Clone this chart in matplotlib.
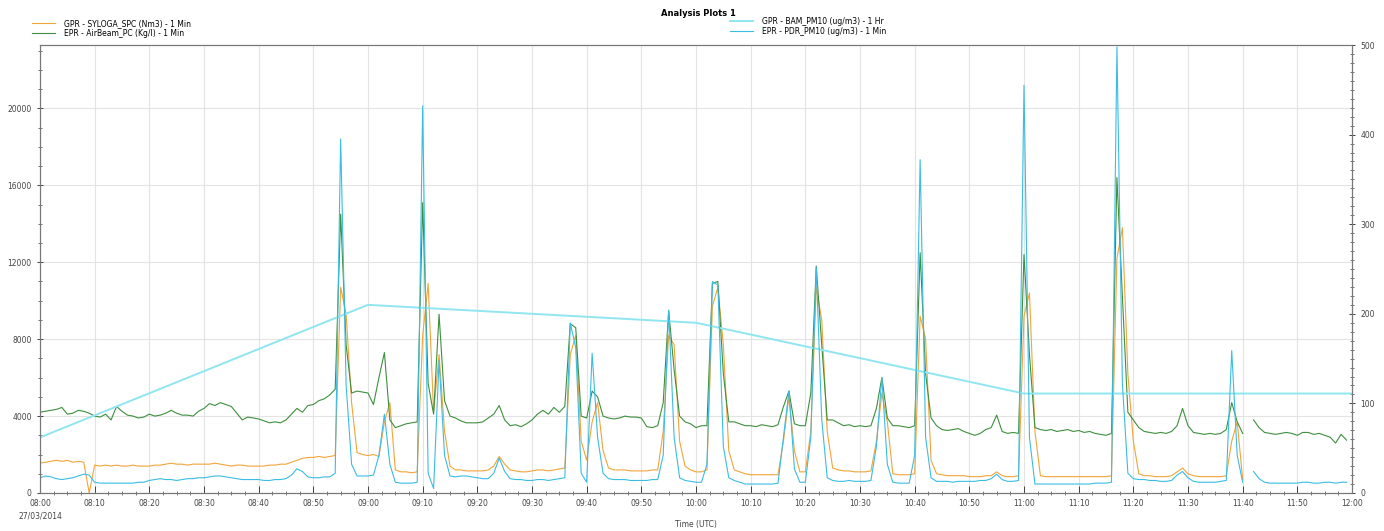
import matplotlib
matplotlib.use('Agg')
import matplotlib.pyplot as plt
import matplotlib.dates as mdates
from matplotlib.ticker import MultipleLocator, AutoMinorLocator
import numpy as np
import pandas as pd

nan = np.nan

# 1 minute timestamps 08:00 - 11:59, hourly points 08:00 - 12:00
minutes = pd.date_range('2014-03-27 08:00', periods=240, freq='min')
hours = pd.date_range('2014-03-27 08:00', periods=5, freq='h')

# GPR - SYLOGA_SPC (left axis), one row = 10 minutes
sylo = [
    1550, 1600, 1650, 1700, 1650, 1700, 1600, 1650, 1600, 0,
    1450, 1400, 1450, 1400, 1450, 1400, 1400, 1450, 1400, 1400,
    1400, 1450, 1450, 1500, 1550, 1500, 1500, 1450, 1500, 1500,
    1500, 1500, 1550, 1500, 1450, 1400, 1450, 1450, 1400, 1400,
    1400, 1400, 1450, 1450, 1500, 1500, 1600, 1700, 1800, 1850,
    1850, 1900, 1850, 1900, 1950, 10700, 9300, 4700, 2100, 2000,
    1950, 2000, 1900, 3700, 4700, 1200, 1100, 1100, 1050, 1100,
    8200, 10900, 4200, 7200, 3200, 1400, 1200, 1200, 1150, 1150,
    1150, 1150, 1200, 1400, 1900, 1500, 1200, 1150, 1100, 1100,
    1150, 1200, 1200, 1150, 1200, 1250, 1300, 7200, 8200, 2700,
    1700, 3700, 4700, 2200, 1300, 1200, 1200, 1200, 1150, 1150,
    1150, 1150, 1200, 1200, 3200, 8200, 7700, 2700, 1400, 1200,
    1100, 1100, 1200, 9700, 10700, 7700, 2200, 1200, 1100, 1000,
    950, 950, 950, 950, 950, 950, 2700, 5000, 2200, 1100,
    1100, 3200, 10700, 9000, 3200, 1300, 1200, 1150, 1150, 1100,
    1100, 1100, 1150, 2700, 5200, 3700, 1000, 950, 950, 950,
    1000, 9200, 8000, 1700, 1000, 950, 900, 900, 900, 900,
    850, 850, 850, 900, 900, 1100, 900, 850, 850, 900,
    9200, 10400, 3200, 900, 850, 850, 850, 850, 850, 850,
    850, 850, 850, 850, 850, 850, 900, 12200, 13800, 6200,
    2700, 1000, 900, 900, 850, 850, 850, 900, 1100, 1300,
    1000, 900, 850, 850, 850, 850, 850, 900, 2700, 3700,
    700, nan, nan, nan, nan, nan, nan, nan, nan, nan,
    nan, nan, nan, nan, nan, nan, nan, nan, nan, nan,
]

# EPR - AirBeam_PC (left axis)
airbeam = [
    4200, 4250, 4300, 4350, 4450, 4100, 4150, 4300, 4250, 4150,
    4000, 3950, 4100, 3800, 4500, 4250, 4050, 4000, 3900, 3950,
    4100, 4000, 4050, 4150, 4300, 4150, 4050, 4050, 4000, 4250,
    4400, 4650, 4550, 4700, 4600, 4500, 4150, 3800, 3950, 3900,
    3850, 3750, 3650, 3700, 3650, 3800, 4100, 4400, 4200, 4550,
    4600, 4800, 4900, 5100, 5400, 14500, 7700, 5200, 5300, 5250,
    5200, 4600, 6000, 7300, 3800, 3400, 3500, 3600, 3650, 3700,
    15100, 5700, 4100, 9300, 4800, 4000, 3900, 3750, 3650, 3650,
    3650, 3700, 3900, 4100, 4550, 3800, 3500, 3550, 3450, 3600,
    3800, 4100, 4300, 4100, 4450, 4200, 4500, 8800, 8600, 4000,
    3900, 5300, 5000, 4000, 3900, 3850, 3900, 4000, 3950, 3950,
    3900, 3450, 3400, 3500, 4700, 9500, 6400, 4000, 3700, 3600,
    3400, 3500, 3500, 10900, 11000, 6200, 3700, 3700, 3600, 3500,
    3500, 3450, 3550, 3500, 3450, 3550, 4500, 5300, 3600, 3500,
    3500, 5200, 11800, 7700, 3800, 3800, 3650, 3500, 3550, 3450,
    3500, 3450, 3500, 4400, 6000, 3900, 3500, 3500, 3450, 3400,
    3500, 12500, 6200, 3900, 3500, 3300, 3250, 3300, 3350, 3200,
    3100, 3000, 3100, 3300, 3400, 4050, 3200, 3100, 3150, 3100,
    12400, 7200, 3400, 3300, 3250, 3300, 3200, 3250, 3300, 3200,
    3250, 3150, 3200, 3100, 3050, 3000, 3100, 16400, 10200, 4200,
    3800, 3400, 3200, 3150, 3100, 3150, 3100, 3200, 3500, 4400,
    3500, 3150, 3100, 3050, 3100, 3050, 3100, 3300, 4700, 3700,
    3100, nan, 3800, 3400, 3150, 3100, 3050, 3100, 3150, 3100,
    3000, 3150, 3150, 3050, 3100, 3000, 2900, 2600, 3050, 2750,
]

# EPR - PDR_PM10 (right axis)
pdr = [
    17, 19, 18, 16, 15, 16, 17, 19, 21, 20,
    12, 11, 11, 11, 11, 11, 11, 11, 12, 12,
    14, 15, 16, 15, 15, 14, 15, 16, 16, 17,
    17, 18, 19, 19, 18, 17, 16, 15, 15, 15,
    15, 14, 14, 15, 15, 16, 20, 27, 24, 18,
    17, 17, 18, 18, 22, 395, 120, 32, 19, 19,
    19, 20, 42, 88, 32, 12, 11, 11, 11, 12,
    432, 22, 5, 148, 42, 19, 18, 19, 19, 18,
    17, 16, 16, 22, 39, 24, 16, 15, 15, 14,
    14, 15, 15, 14, 15, 16, 17, 190, 162, 22,
    12, 156, 62, 22, 16, 15, 15, 15, 14, 14,
    14, 14, 15, 15, 42, 204, 62, 17, 14, 13,
    12, 12, 32, 236, 232, 52, 17, 14, 12, 10,
    10, 10, 10, 10, 10, 11, 62, 114, 27, 12,
    12, 62, 252, 82, 17, 14, 13, 13, 14, 13,
    13, 13, 14, 52, 129, 32, 12, 11, 11, 11,
    42, 372, 62, 17, 13, 13, 13, 12, 13, 13,
    13, 13, 14, 14, 16, 21, 15, 13, 13, 14,
    455, 62, 10, 10, 10, 10, 10, 10, 10, 10,
    10, 10, 10, 11, 11, 11, 12, 498, 122, 22,
    16, 15, 15, 14, 14, 13, 13, 14, 20, 24,
    17, 13, 12, 12, 12, 12, 13, 14, 159, 42,
    12, nan, 24, 16, 12, 11, 11, 11, 11, 11,
    11, 12, 12, 11, 11, 12, 12, 11, 12, 12,
]

# GPR - BAM_PM10 hourly (right axis)
bam = [62, 210, 190, 111, 111]

labels_left = ['GPR - SYLOGA_SPC (Nm3) - 1 Min', 'EPR - AirBeam_PC (Kg/l) - 1 Min']
labels_right = ['GPR - BAM_PM10 (ug/m3) - 1 Hr', 'EPR - PDR_PM10 (ug/m3) - 1 Min']

W, H = 1384, 531
fig = plt.figure(figsize=(W / 100, H / 100), dpi=100)
ax = fig.add_axes([40 / W, 1 - 493 / H, (1352 - 40) / W, (493 - 45) / H])
ax2 = ax.twinx()

l1, = ax.plot(minutes, sylo, color='#f2a43a', lw=0.8, label=labels_left[0])
l2, = ax.plot(minutes, airbeam, color='#3e8f3e', lw=0.8, label=labels_left[1])
l3, = ax2.plot(hours, bam, color='#8fe6f0', lw=1.4, label=labels_right[0])
l4, = ax2.plot(minutes, pdr, color='#3bbde3', lw=0.8, label=labels_right[1])

ax.set_xlim(hours[0], hours[-1])
ax.set_ylim(0, 23300)
ax2.set_ylim(0, 500)

ax.yaxis.set_major_locator(MultipleLocator(4000))
ax.yaxis.set_minor_locator(MultipleLocator(1000))
ax2.yaxis.set_major_locator(MultipleLocator(100))
ax2.yaxis.set_minor_locator(MultipleLocator(10))
ax.xaxis.set_major_locator(mdates.MinuteLocator(byminute=range(0, 60, 10)))
ax.xaxis.set_minor_locator(AutoMinorLocator(4))
ax.xaxis.set_major_formatter(mdates.DateFormatter('%H:%M'))

ax.grid(True, which='major', color='#e3e3e3', lw=0.8)
ax.set_axisbelow(True)

for a in (ax, ax2):
    a.tick_params(which='both', labelsize=5.5, colors='#444444', direction='inout')
    a.tick_params(which='major', length=5, width=0.7)
    a.tick_params(which='minor', length=2.5, width=0.5)
    for s in a.spines.values():
        s.set_color('#777777')
        s.set_linewidth(0.8)
ax.tick_params(axis='x', direction='in', pad=4)

ax.set_xlabel('Time (UTC)', fontsize=5.5, color='#444444', labelpad=9)
fig.text(40 / W, 1 - 516 / H, '27/03/2014', fontsize=5.5, color='#444444', ha='center', va='center')
fig.text(698 / W, 1 - 14 / H, 'Analysis Plots 1', fontsize=6, fontweight='bold', ha='center', va='center')

leg_kw = dict(loc='upper left', frameon=False, fontsize=5.5, handlelength=3,
              borderaxespad=0, borderpad=0, labelspacing=0.15, handletextpad=1.2)
fig.legend(handles=[l1, l2], bbox_to_anchor=(32 / W, 1 - 19 / H), **leg_kw)
fig.legend(handles=[l3, l4], bbox_to_anchor=(730 / W, 1 - 17 / H), **leg_kw)

fig.savefig('out.png', dpi=100)
